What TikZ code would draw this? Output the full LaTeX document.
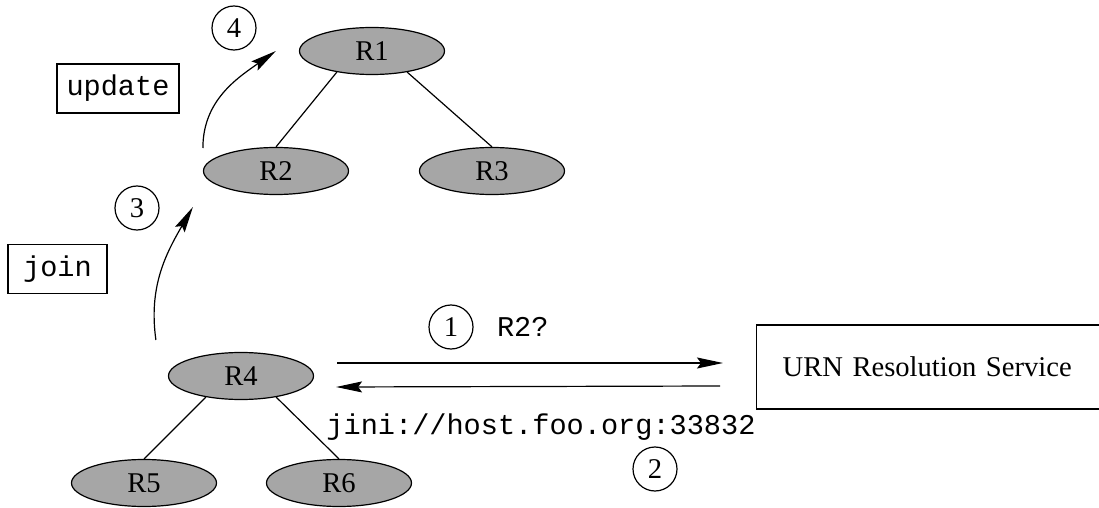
\documentclass[tikz,border=0pt]{standalone}
\usepackage{fontspec}
\setmainfont{Liberation Serif}
\setmonofont{Liberation Mono}
\usetikzlibrary{shapes.geometric,arrows.meta}
\newcommand{\figfont}{\fontsize{14.3}{17}\selectfont}
\tikzset{
router/.style={ellipse,draw,fill=black!35,line width=0.6pt,minimum width=72.5pt,minimum height=23.5pt,inner sep=0pt},
numcirc/.style={circle,draw,line width=0.6pt,minimum size=22pt,inner sep=0pt},
codetext/.style={font=\figfont\ttfamily},
cmdbox/.style={rectangle,draw,line width=0.6pt,minimum height=24.5pt,inner sep=0pt,codetext},
servicebox/.style={rectangle,draw,line width=0.6pt,minimum height=42pt,inner xsep=13pt,inner ysep=0pt,text width=164pt,align=left},
msg/.style={-{Stealth[length=13pt,width=5.5pt,inset=2pt]},line width=0.6pt}
}
\begin{document}
\begin{tikzpicture}[x=0.5pt,y=-0.5pt,font=\figfont]
\useasboundingbox (0,0) rectangle (1099,508);

\node[router] (R1) at (372,51) {R1};
\node[router] (R2) at (276,171) {R2};
\node[router] (R3) at (492,171) {R3};
\node[router] (R4) at (241,376) {R4};
\node[router] (R5) at (144,483) {R5};
\node[router] (R6) at (339,483) {R6};
\draw[line width=0.6pt] (R1.211) -- (R2.north);
\draw[line width=0.6pt] (R1.329) -- (R3.north);
\draw[line width=0.6pt] (R4.211) -- (R5.north);
\draw[line width=0.6pt] (R4.329) -- (R6.north);

\node[servicebox,anchor=west] (urn) at (756,367) {URN Resolution Service};
\draw[msg] ([xshift=11.5pt,yshift=6.5pt]R4.east) -- ([xshift=-16.5pt,yshift=2pt]urn.west);
\draw[msg] ([xshift=-18pt,yshift=-9.5pt]urn.west) -- ([xshift=11pt,yshift=-5.5pt]R4.east);
\node[numcirc] (step1) at (451,327) {1};
\node[codetext,anchor=west] (query) at (490,327) {R2?};
\node[codetext] (reply) at (541,427) {jini://host.foo.org:33832};
\node[numcirc] (step2) at (655,469) {2};

\node[cmdbox,minimum width=49.5pt] (join) at (57.5,269) {join};
\node[numcirc] (step3) at (137,208) {3};
\draw[msg] ([xshift=-6pt,yshift=18pt]R4.west) to[out=98,in=240] ([xshift=-5pt,yshift=-18pt]R2.west);

\node[cmdbox,minimum width=61pt] (update) at (118,88.5) {update};
\node[numcirc] (step4) at (234,28) {4};
\draw[msg] ([yshift=11.5pt]R2.west) to[out=90,in=215] ([xshift=-11.5pt]R1.west);
\end{tikzpicture}
\end{document}
